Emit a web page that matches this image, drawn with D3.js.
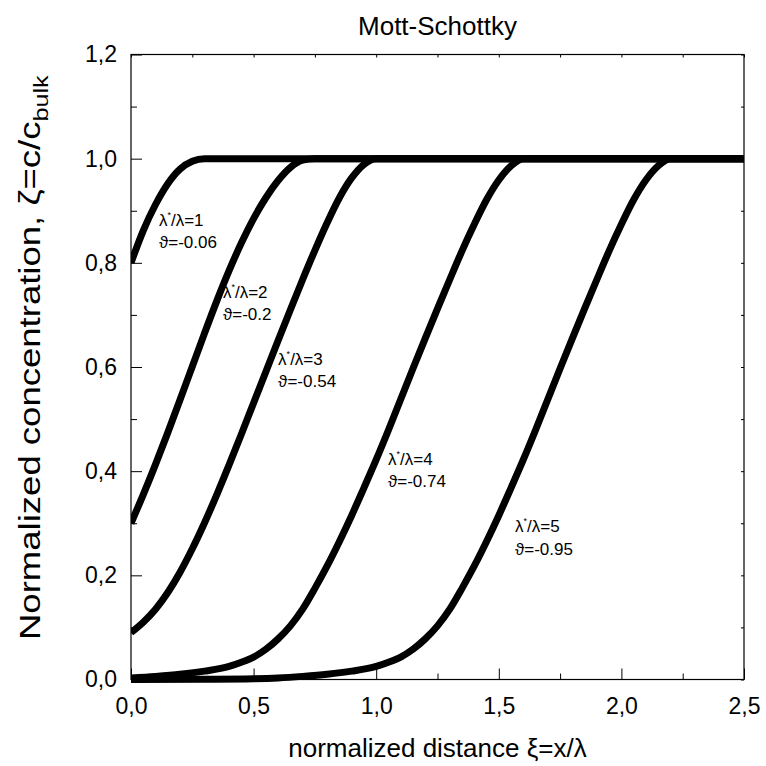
<!DOCTYPE html>
<html>
<head>
<meta charset="utf-8">
<script src="https://cdn.jsdelivr.net/npm/d3@7"></script>
<style>
  html, body { margin: 0; padding: 0; background: #fff; }
  text { font-family: "Liberation Sans", Arial, sans-serif; fill: #000; }
</style>
</head>
<body>
<svg id="chart" width="766" height="766"></svg>
<script>
// Concentration profiles ζ(ξ) for the Mott-Schottky case, one per λ*/λ ratio
const ratioLabels = ["1", "2", "3", "4", "5"];
const thetaLabels = ["-0.06", "-0.2", "-0.54", "-0.74", "-0.95"];

const profile1 = [[0,0.80],[0.05,0.862],[0.1,0.912],[0.15,0.952],[0.2,0.980],[0.25,0.995],[0.3,1.0],[2.5,1.0]];
const profile2 = [[0,0.30],[0.05,0.355],[0.1,0.413],[0.15,0.474],[0.2,0.537],[0.25,0.601],[0.3,0.665],[0.35,0.727],
                  [0.4,0.785],[0.45,0.838],[0.5,0.885],[0.55,0.925],[0.6,0.958],[0.65,0.983],[0.7,0.997],[0.75,1.0],[2.5,1.0]];
const profile3 = [[0,0.09],[0.05,0.11],[0.1,0.135],[0.15,0.167],[0.2,0.206],[0.25,0.251],[0.3,0.301],[0.35,0.355],
                  [0.4,0.412],[0.45,0.471],[0.5,0.531],[0.55,0.591],[0.6,0.651],[0.65,0.710],[0.7,0.768],[0.75,0.824],
                  [0.8,0.877],[0.85,0.925],[0.9,0.963],[0.95,0.989],[1.0,1.0],[2.5,1.0]];
const profile4 = [[0,0.003],[0.1,0.006],[0.2,0.010],[0.3,0.016],[0.4,0.025],[0.45,0.033],[0.5,0.043],[0.55,0.058],
                  [0.6,0.078],[0.65,0.103],[0.7,0.135],[0.75,0.175],[0.8,0.218],[0.85,0.265],[0.9,0.315],[0.95,0.368],
                  [1.0,0.422],[1.05,0.479],[1.1,0.538],[1.15,0.597],[1.2,0.655],[1.25,0.712],[1.3,0.768],[1.35,0.823],
                  [1.4,0.874],[1.45,0.921],[1.5,0.959],[1.55,0.986],[1.6,1.0],[2.5,1.0]];
const profile5 = [[0,0.0],[0.3,0.0005],[0.5,0.0015],[0.6,0.003],[0.7,0.006],[0.8,0.010],[0.9,0.016],[1.0,0.025],
                  [1.05,0.033],[1.1,0.043],[1.15,0.058],[1.2,0.078],[1.25,0.103],[1.3,0.135],[1.35,0.175],[1.4,0.218],
                  [1.45,0.265],[1.5,0.315],[1.55,0.368],[1.6,0.422],[1.65,0.479],[1.7,0.538],[1.75,0.597],[1.8,0.655],
                  [1.85,0.712],[1.9,0.768],[1.95,0.823],[2.0,0.874],[2.05,0.921],[2.1,0.959],[2.15,0.986],[2.2,1.0],[2.5,1.0]];
const profiles = [profile1, profile2, profile3, profile4, profile5];

// Label anchor points in data space (ξ, ζ) for each curve annotation
const labelXi = [0.114, 0.375, 0.6, 1.048, 1.566];
const labelZeta = [0.871, 0.7325, 0.604, 0.412, 0.283];

const xTicks = [0, 0.5, 1.0, 1.5, 2.0, 2.5];
const yTicks = [0, 0.2, 0.4, 0.6, 0.8, 1.0, 1.2];
const xMinorTicks = [0.25, 0.75, 1.25, 1.75, 2.25];
const yMinorTicks = [0.1, 0.3, 0.5, 0.7, 0.9, 1.1];

const svg = d3.select("#chart");
const mLeft = 131, mRight = 744, mTop = 54.5, mBottom = 679.5;

const x = d3.scaleLinear().domain([0, 2.5]).range([mLeft, mRight]);
const y = d3.scaleLinear().domain([0, 1.2]).range([mBottom, mTop]);

const fmt = d => d3.format(".1f")(d).replace(".", ",");

// Curves
const line = d3.line().x(d => x(d[0])).y(d => y(d[1])).curve(d3.curveMonotoneX);
const plot = svg.append("g");
plot.append("defs").append("clipPath").attr("id", "clip")
  .append("rect").attr("x", mLeft).attr("y", mTop - 5).attr("width", mRight - mLeft).attr("height", mBottom - mTop + 10);
plot.append("g").attr("clip-path", "url(#clip)")
  .selectAll("path").data(profiles).join("path")
  .attr("d", line)
  .attr("fill", "none")
  .attr("stroke", "#000")
  .attr("stroke-width", 7)
  .attr("stroke-linejoin", "round");

// Axes (ticks point inward, mirrored on top and right)
const major = 11, minor = 6;
const axisStyle = g => {
  g.select(".domain").remove();
  g.selectAll(".tick line").attr("stroke", "#000").attr("stroke-width", 1);
};
const tickFont = g => g.selectAll("text").attr("font-size", 23).attr("font-family", "Liberation Sans, Arial, sans-serif");

svg.append("g").attr("transform", `translate(0,${mBottom})`)
  .call(d3.axisBottom(x).tickValues(xTicks).tickSize(-major).tickFormat(fmt).tickPadding(18))
  .call(axisStyle).call(tickFont);
svg.append("g").attr("transform", `translate(0,${mBottom})`)
  .call(d3.axisBottom(x).tickValues(xMinorTicks).tickSize(-minor).tickFormat(""))
  .call(axisStyle);

svg.append("g").attr("transform", `translate(${mLeft},0)`)
  .call(d3.axisLeft(y).tickValues(yTicks).tickSize(-major).tickFormat(fmt).tickPadding(14))
  .call(axisStyle).call(tickFont);
svg.append("g").attr("transform", `translate(${mLeft},0)`)
  .call(d3.axisLeft(y).tickValues(yMinorTicks).tickSize(-minor).tickFormat(""))
  .call(axisStyle);

svg.append("g").attr("transform", `translate(0,${mTop})`)
  .call(d3.axisTop(x).tickValues(xTicks.concat(xMinorTicks)).tickSize(-3).tickFormat(""))
  .call(axisStyle);
svg.append("g").attr("transform", `translate(${mRight},0)`)
  .call(d3.axisRight(y).tickValues(yTicks.concat(yMinorTicks)).tickSize(-3).tickFormat(""))
  .call(axisStyle);

// Frame
svg.append("rect")
  .attr("x", mLeft).attr("y", mTop)
  .attr("width", mRight - mLeft).attr("height", mBottom - mTop)
  .attr("fill", "none").attr("stroke", "#000").attr("stroke-width", 1.2);

// Curve annotations
const labels = svg.append("g").attr("font-size", 17);
ratioLabels.forEach((r, i) => {
  const lx = x(labelXi[i]), ly = y(labelZeta[i]);
  const t1 = labels.append("text").attr("x", lx).attr("y", ly);
  t1.append("tspan").text("λ");
  t1.append("tspan").attr("font-size", 9).attr("dy", -8).text("*");
  t1.append("tspan").attr("dy", 8).text("/λ=" + r);
  labels.append("text").attr("x", lx).attr("y", ly + 22.5).text("ϑ=" + thetaLabels[i]);
});

// Scale a text element along its writing direction so it spans a given length
function fitLength(sel, length) {
  const natural = sel.node().getComputedTextLength();
  sel.attr("transform", (sel.attr("transform") || "") + ` scale(${length / natural},1)`);
}

// Title and axis titles
const cx = (mLeft + mRight) / 2;
svg.append("text")
  .attr("x", cx).attr("y", 35)
  .attr("text-anchor", "middle").attr("font-size", 26).text("Mott-Schottky");

svg.append("text")
  .attr("x", cx).attr("y", 757)
  .attr("text-anchor", "middle").attr("font-size", 26).text("normalized distance ξ=x/λ");

const yTitle = svg.append("text")
  .attr("transform", `translate(40,640) rotate(-90)`)
  .attr("text-anchor", "start").attr("font-size", 29);
yTitle.append("tspan").text("Normalized concentration, ζ=c/c");
yTitle.append("tspan").attr("font-size", 20).attr("dy", 8).text("bulk");
fitLength(yTitle, 565);
</script>
</body>
</html>
